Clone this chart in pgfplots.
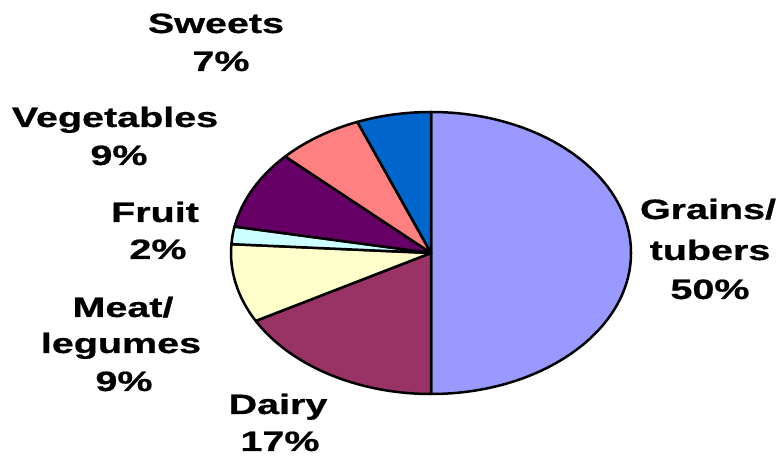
\documentclass[border=0pt]{standalone}
\usepackage{pgfplots}
\pgfplotsset{compat=1.18}
\usepackage{fontspec}
\setmainfont{Liberation Sans}[BoldFeatures={FakeBold=0.6}]
\definecolor{cGrains}{HTML}{9999FF}
\definecolor{cDairy}{HTML}{993366}
\definecolor{cMeat}{HTML}{FFFFCC}
\definecolor{cFruit}{HTML}{CCFFFF}
\definecolor{cVeg}{HTML}{660066}
\definecolor{cSweets}{HTML}{FF8080}
\definecolor{cOther}{HTML}{0066CC}
\newcommand{\lab}[1]{\scalebox{1.41}[1]{\fontsize{28bp}{39bp}\selectfont\bfseries #1}}
\begin{document}
\begin{tikzpicture}
\begin{axis}[
  width=778bp, height=456bp, scale only axis,
  xmin=0, xmax=778, ymin=0, ymax=456,
  hide axis, clip=false]
% pie slices: shares in percent 50,17,9,2,9,7,6 ; start at 90 deg, clockwise
\tikzset{slice/.style={draw=black, line width=2.5bp, line join=round}}
\filldraw[fill=cGrains, slice]
  (axis cs:431,203) -- (axis cs:431,344) arc[start angle=90, end angle=-90, x radius=200bp, y radius=141bp] -- cycle;
\filldraw[fill=cDairy, slice]
  (axis cs:431,203) -- (axis cs:431,62) arc[start angle=-90, end angle=-151.2, x radius=200bp, y radius=141bp] -- cycle;
\filldraw[fill=cMeat, slice]
  (axis cs:431,203) -- ++(-151.2:200bp and 141bp) arc[start angle=-151.2, end angle=-183.6, x radius=200bp, y radius=141bp] -- cycle;
\filldraw[fill=cFruit, slice]
  (axis cs:431,203) -- ++(-183.6:200bp and 141bp) arc[start angle=-183.6, end angle=-190.8, x radius=200bp, y radius=141bp] -- cycle;
\filldraw[fill=cVeg, slice]
  (axis cs:431,203) -- ++(-190.8:200bp and 141bp) arc[start angle=-190.8, end angle=-223.2, x radius=200bp, y radius=141bp] -- cycle;
\filldraw[fill=cSweets, slice]
  (axis cs:431,203) -- ++(-223.2:200bp and 141bp) arc[start angle=-223.2, end angle=-248.4, x radius=200bp, y radius=141bp] -- cycle;
\filldraw[fill=cOther, slice]
  (axis cs:431,203) -- ++(-248.4:200bp and 141bp) arc[start angle=-248.4, end angle=-270, x radius=200bp, y radius=141bp] -- cycle;
% labels (baselines)
\node[anchor=base, inner sep=0] at (axis cs:216,423) {\lab{Sweets}};
\node[anchor=base, inner sep=0] at (axis cs:221,385) {\lab{7\%}};
\node[anchor=base, inner sep=0] at (axis cs:115,329) {\lab{Vegetables}};
\node[anchor=base, inner sep=0] at (axis cs:119,291) {\lab{9\%}};
\node[anchor=base, inner sep=0] at (axis cs:155,234) {\lab{Fruit}};
\node[anchor=base, inner sep=0] at (axis cs:158,197) {\lab{2\%}};
\node[anchor=base, inner sep=0] at (axis cs:123,139) {\lab{Meat/}};
\node[anchor=base, inner sep=0] at (axis cs:121,103) {\lab{legumes}};
\node[anchor=base, inner sep=0] at (axis cs:124,65) {\lab{9\%}};
\node[anchor=base, inner sep=0] at (axis cs:278,42) {\lab{Dairy}};
\node[anchor=base, inner sep=0] at (axis cs:280,5) {\lab{17\%}};
\node[anchor=base, inner sep=0] at (axis cs:708,237) {\lab{Grains/}};
\node[anchor=base, inner sep=0] at (axis cs:710,196) {\lab{tubers}};
\node[anchor=base, inner sep=0] at (axis cs:710,157) {\lab{50\%}};
\end{axis}
\pgfresetboundingbox
\useasboundingbox (0,0) rectangle (778bp,456bp);
\end{tikzpicture}
\end{document}
